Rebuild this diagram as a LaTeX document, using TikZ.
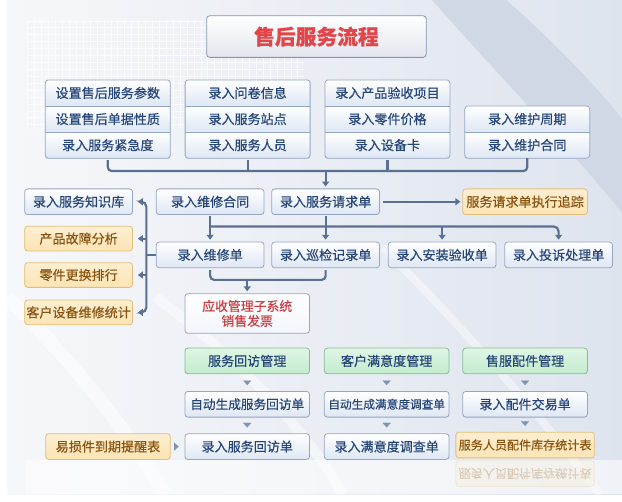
\documentclass[tikz,border=0pt]{standalone}
\usepackage{fontspec}
\setmainfont{Noto Sans CJK SC}[FakeBold=0.4]
\usepackage{xcolor}
\usepackage{graphicx}
\usepackage{tikz}
\usetikzlibrary{arrows.meta, positioning, fit}
\definecolor{linkblue}{RGB}{90, 112, 146}
\definecolor{textblue}{RGB}{38, 70, 120}
\definecolor{edgeblue}{RGB}{148, 166, 194}
\definecolor{paleblue}{RGB}{222, 231, 244}
\definecolor{edgegold}{RGB}{226, 190, 124}
\definecolor{palegold}{RGB}{252, 228, 180}
\definecolor{textgold}{RGB}{138, 84, 16}
\definecolor{edgegreen}{RGB}{130, 190, 148}
\definecolor{palegreen}{RGB}{194, 236, 204}
\definecolor{titlered}{RGB}{224, 70, 74}
\definecolor{titlegray}{RGB}{226, 230, 237}
\definecolor{tipgray}{RGB}{128, 147, 176}
\definecolor{bgleft}{RGB}{246, 247, 250}
\definecolor{bgright}{RGB}{222, 228, 238}
\definecolor{bandblue}{RGB}{208, 216, 230}

\begin{document}
\begin{tikzpicture}[
    x=1pt, y=-1pt,
    font=\fontsize{13.2}{15}\selectfont,
    box/.style={rectangle, draw=edgeblue, line width=0.8pt, top color=white, bottom color=paleblue, text=textblue, minimum width=109pt, minimum height=26pt, inner sep=1pt, rounded corners=3pt},
    gold/.style={box, draw=edgegold, top color=white!40!palegold, bottom color=palegold, text=textgold},
    green/.style={box, draw=edgegreen, top color=white!50!palegreen, bottom color=palegreen},
    row/.style={rectangle, top color=white, bottom color=paleblue, text=textblue, minimum width=126pt, minimum height=26pt, inner sep=0pt},
    frame/.style={rectangle, draw=edgeblue, line width=0.8pt, rounded corners=3pt, inner sep=0pt},
    sep/.style={edgeblue, line width=0.7pt},
    link/.style={linkblue, line width=2.2pt},
    arrow/.style={link, -{Triangle[width=7pt,length=5pt]}, shorten >=2pt},
    twoway/.style={link, {Triangle[width=7pt,length=5pt]}-{Triangle[width=7pt,length=5pt]}, shorten >=5pt, shorten <=5pt},
    tip/.style={tipgray, line width=0.1pt, -{Triangle[width=8pt,length=4.5pt]}}
]

% background
\fill[left color=bgleft, right color=bgright] (0,0) rectangle (622,500);
\draw[white!60!bgleft, line width=0.4pt, step=7pt] (20,20) grid (300,130);
\fill[bandblue] (430,0) .. controls (500,80) and (570,150) .. (622,215) -- (622,120) .. controls (590,80) and (545,35) .. (505,0) -- cycle;
\draw[white, line width=14pt, opacity=0.5] (0,300) .. controls (60,360) and (120,430) .. (160,500);
\draw[white, line width=10pt, opacity=0.45] (150,300) .. controls (230,360) and (300,430) .. (340,500);
\draw[white, line width=8pt, opacity=0.4] (380,250) .. controls (460,330) and (540,420) .. (600,500);
\fill[white, opacity=0.55] (18,465) rectangle (622,500);

% title
\node[box, minimum width=222pt, minimum height=42pt, bottom color=titlegray, draw=edgeblue!90!black, text=titlered, font=\fontsize{21}{24}\bfseries] (title) at (313,37) {售后服务流程};

% setup groups
\node[row] (r11) at (102,94) {设置售后服务参数};
\node[row, below=0pt of r11] (r12) {设置售后单据性质};
\node[row, below=0pt of r12] (r13) {录入服务紧急度};
\node[row, right=15pt of r11] (r21) {录入问卷信息};
\node[row, below=0pt of r21] (r22) {录入服务站点};
\node[row, below=0pt of r22] (r23) {录入服务人员};
\node[row, right=15pt of r21] (r31) {录入产品验收项目};
\node[row, below=0pt of r31] (r32) {录入零件价格};
\node[row, below=0pt of r32] (r33) {录入设备卡};
\node[row, right=15pt of r32] (r41) {录入维护周期};
\node[row, below=0pt of r41] (r42) {录入维护合同};
\node[frame, fit=(r11)(r13)] (grp1) {};
\node[frame, fit=(r21)(r23)] (grp2) {};
\node[frame, fit=(r31)(r33)] (grp3) {};
\node[frame, fit=(r41)(r42)] (grp4) {};
\foreach \r in {r11,r12,r21,r22,r31,r32,r41}
    \draw[sep] (\r.south west) -- (\r.south east);

% service rows
\node[box] (kb) at (72.5,204) {录入服务知识库};
\node[box] (contract) at (205.5,204) {录入维修合同};
\node[box, right=7pt of contract] (req) {录入服务请求单};
\node[gold, minimum width=126pt] (track) at (524,204) {服务请求单执行追踪};
\node[gold, minimum height=25pt, below=11pt of kb] (fault) {产品故障分析};
\node[gold, minimum height=25pt, below=11pt of fault] (parts) {零件更换排行};
\node[gold, minimum height=25pt, below=12pt of parts] (cust) {客户设备维修统计};
\node[box, below=27pt of contract] (repair) {录入维修单};
\node[box, right=7pt of repair] (inspect) {录入巡检记录单};
\node[box, right=8pt of inspect] (install) {录入安装验收单};
\node[box, right=8pt of install] (complain) {录入投诉处理单};
\node[box, minimum width=126pt, minimum height=40pt, bottom color=white!60!paleblue, text=titlered!90!black, align=center, font=\fontsize{13}{15}\selectfont] (recv) at (243,317) {应收管理子系统\\销售发票};

% follow-up columns
\node[green, minimum width=126pt] (svc) at (243,365) {服务回访管理};
\node[green, minimum width=126pt] (sat) at (384,365) {客户满意度管理};
\node[green, minimum width=126pt] (spare) at (524,365) {售服配件管理};
\node[box, minimum width=126pt, below=17pt of svc, font=\fontsize{12.8}{14}\selectfont] (autosvc) {自动生成服务回访单};
\node[box, minimum width=126pt, below=17pt of sat, font=\fontsize{11.8}{14}\selectfont] (autosat) {自动生成满意度调查单};
\node[box, minimum width=126pt, below=17pt of spare] (deal) {录入配件交易单};
\node[box, minimum width=126pt, below=16pt of autosvc] (visit) {录入服务回访单};
\node[box, minimum width=126pt, below=16pt of autosat] (survey) {录入满意度调查单};
\node[gold, minimum width=140pt, font=\fontsize{12.2}{14}\selectfont] (stock) at (524,450) {服务人员配件库存统计表};
\node[gold, minimum width=126pt, left=14pt of visit] (remind) {易损件到期提醒表};
\node[gold, minimum width=140pt, font=\fontsize{12.2}{14}\selectfont, opacity=0.2] (echo) at (524,479) {\scalebox{1}[-1]{服务人员配件库存统计表}};

% connectors
\coordinate (topbar) at (0,173);
\coordinate (midbar) at (0,229);
\coordinate (lowbar) at (0,283);
\coordinate (leftbar) at (141,0);
\draw[link, rounded corners=4pt, shorten <=2pt] (r13.south) -- (r13.south |- topbar) -- (r42.south |- topbar) -- (r42.south);
\draw[link, shorten <=2pt] (r23.south) -- (r23.south |- topbar);
\draw[link, shorten <=2pt] (r33.south) -- (r33.south |- topbar);
\draw[arrow] (req.north |- topbar) -- (req.north);
\draw[arrow, shorten <=3pt] (req) -- (track);
\draw[arrow, shorten <=1pt] (contract) -- (repair);
\draw[arrow, shorten <=1pt] (req) -- (inspect);
\draw[arrow, rounded corners=5pt] (contract.south |- midbar) -| (complain.north);
\draw[arrow] (install.north |- midbar) -- (install.north);
\draw[link, rounded corners=4pt, shorten <=2pt, shorten >=2pt] (repair.south) -- (repair.south |- lowbar) -- (inspect.south |- lowbar) -- (inspect.south);
\draw[arrow] (recv.north |- lowbar) -- (recv.north);
\draw[twoway, rounded corners=5pt] (kb.east) -| (leftbar |- cust.east) -- (cust.east);
\draw[arrow, shorten >=5pt] (leftbar |- fault.east) -- (fault.east);
\draw[arrow, shorten >=5pt] (leftbar |- parts.east) -- (parts.east);
\draw[link] (repair.west) -- (leftbar |- repair.west);
\draw[tip, shorten <=7pt, shorten >=6pt] (svc) -- (autosvc);
\draw[tip, shorten <=7pt, shorten >=6pt] (sat) -- (autosat);
\draw[tip, shorten <=7pt, shorten >=6pt] (spare) -- (deal);
\draw[tip, shorten <=6pt, shorten >=6pt] (autosvc) -- (visit);
\draw[tip, shorten <=6pt, shorten >=6pt] (autosat) -- (survey);
\draw[tip, shorten <=6pt, shorten >=6pt] (deal) -- (stock);
\draw[tip, shorten <=4pt, shorten >=6pt] (remind) -- (visit);

\end{tikzpicture}
\end{document}
